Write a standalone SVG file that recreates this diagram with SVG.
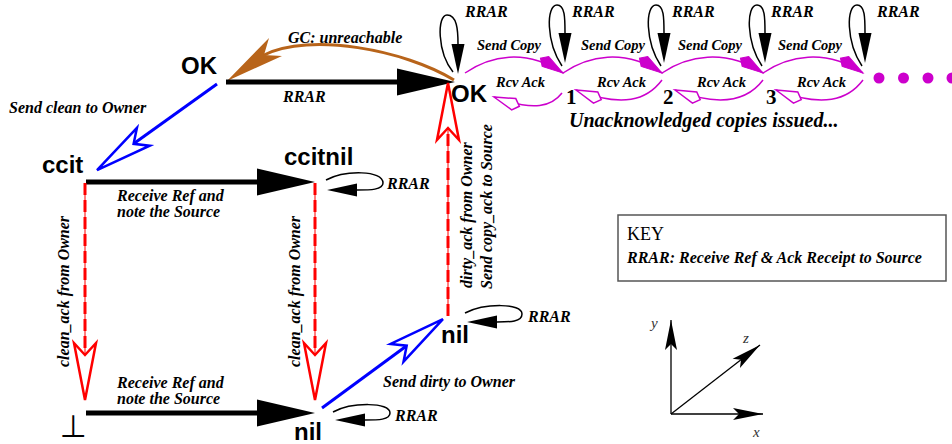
<svg xmlns="http://www.w3.org/2000/svg" width="952" height="444" viewBox="0 0 952 444">
<style>
.node{font-family:"Liberation Sans",Arial,sans-serif;font-weight:bold;font-size:24px;fill:#000}
.lbl{font-family:"Liberation Serif","Times New Roman",serif;font-weight:bold;font-style:italic;font-size:16px;fill:#000}
.sm{font-size:14.5px}
.num{font-family:"Liberation Serif","Times New Roman",serif;font-weight:bold;font-size:21px;fill:#000}
.ax{font-family:"Liberation Serif","Times New Roman",serif;font-style:italic;font-size:15px;fill:#333}
.big{stroke:#000;stroke-width:5;fill:none}
.loop{stroke:#000;stroke-width:1.5;fill:none}
.blue{stroke:#0000ff;stroke-width:3;fill:none}
.redthin{stroke:#ff0000;stroke-width:1;fill:none}
.reddash{stroke:#ff0000;stroke-width:3;fill:none;stroke-dasharray:12 5}
.mag{stroke:#cc00cc;stroke-width:1.5;fill:none}
.brown{stroke:#b8641a;stroke-width:3;fill:none}
.axis{stroke:#000;stroke-width:1.3;fill:none}
</style>
<defs>
<marker id="mBig" markerUnits="userSpaceOnUse" orient="auto" overflow="visible" markerWidth="1" markerHeight="1"><path d="M0,-13.5 L58,0 L0,13.5 Z" fill="#000"/></marker>
<marker id="mSmall" markerUnits="userSpaceOnUse" orient="auto" overflow="visible" markerWidth="1" markerHeight="1"><path d="M0,-6.5 L30,0 L0,6.5 Z" fill="#000"/></marker>
<marker id="mBlue" markerUnits="userSpaceOnUse" orient="auto" overflow="visible" markerWidth="1" markerHeight="1"><path d="M45,0 L-12,-11 L0,0 L-12,11 Z" fill="#fff" stroke="#0000ff" stroke-width="2.5"/></marker>
<marker id="mRed" markerUnits="userSpaceOnUse" orient="auto" overflow="visible" markerWidth="1" markerHeight="1"><path d="M45,0 L-12,-11 L0,0 L-12,11 Z" fill="#fff" stroke="#ff0000" stroke-width="2.5"/></marker>
<marker id="mKiteFill" markerUnits="userSpaceOnUse" orient="auto" overflow="visible" markerWidth="1" markerHeight="1"><path d="M0,0 L-21,-6 L-27,0 L-21,6 Z" fill="#cc00cc" stroke="#cc00cc" stroke-width="1"/></marker>
<marker id="mKiteOpen" markerUnits="userSpaceOnUse" orient="auto" overflow="visible" markerWidth="1" markerHeight="1"><path d="M0,0 L-21,-6 L-27,0 L-21,6 Z" fill="#fff" stroke="#cc00cc" stroke-width="1.5"/></marker>
<marker id="mAxis" markerUnits="userSpaceOnUse" orient="auto" overflow="visible" markerWidth="1" markerHeight="1"><path d="M0,0 L-30,-6 L-24,0 L-30,6 Z" fill="#000"/></marker>
</defs>

<g id="connectors">
  <path class="brown" d="M454,80 C405,50 310,32 264,55"/>
  <polygon points="227,81 269,38 264,55 282,56" fill="#b8641a"/>
  <path class="big" d="M226,82 H397" marker-end="url(#mBig)"/>
  <path class="big" d="M86,182 H257" marker-end="url(#mBig)"/>
  <path class="big" d="M86,413 H257" marker-end="url(#mBig)"/>
  <path class="blue" d="M217,84 L133.6,143.8" marker-end="url(#mBlue)"/>
  <path class="blue" d="M322,408 L406.7,345.7" marker-end="url(#mBlue)"/>
  <path class="redthin" d="M85,183 V355"/>
  <path class="reddash" d="M85,183 V355" marker-end="url(#mRed)"/>
  <path class="redthin" d="M315,183 V355"/>
  <path class="reddash" d="M315,183 V355" marker-end="url(#mRed)"/>
  <path class="redthin" d="M448,316 V128"/>
  <path class="reddash" d="M448,316 V128" marker-end="url(#mRed)"/>
  <path class="loop" d="M326,180 C345,170 383,170 383,183 C383,190 370,190 357,190" marker-end="url(#mSmall)"/>
  <path class="loop" d="M333,412 C352,402 390,402 390,413 C390,420 378,420 365,420" marker-end="url(#mSmall)"/>
  <path class="loop" d="M465,313 C485,303 522,303 522,314 C522,322 510,322 497,322" marker-end="url(#mSmall)"/>
  <path class="loop" d="M453,72 C437,52 437,15 447,15 C457,15 458,30 458,44" marker-end="url(#mSmall)"/>
  <path class="loop" d="M562,66 C546,42 546,5 557,5 C565,5 565,18 565,33" marker-end="url(#mSmall)"/>
  <path class="loop" d="M661,66 C645,42 645,5 656,5 C664,5 664,18 664,33" marker-end="url(#mSmall)"/>
  <path class="loop" d="M762,66 C746,42 746,5 757,5 C765,5 765,18 765,33" marker-end="url(#mSmall)"/>
  <path class="loop" d="M862,66 C846,42 846,5 857,5 C865,5 865,18 865,33" marker-end="url(#mSmall)"/>
  <path class="mag" d="M465,73 C490,56 525,48 563,73" marker-end="url(#mKiteFill)"/>
  <path class="mag" d="M563,73 C588,56 624,48 662,73" marker-end="url(#mKiteFill)"/>
  <path class="mag" d="M662,73 C687,56 725,48 763,73" marker-end="url(#mKiteFill)"/>
  <path class="mag" d="M763,73 C788,56 825,48 863,73" marker-end="url(#mKiteFill)"/>
  <path class="mag" d="M562,93 C552,106 535,112 494,97" marker-end="url(#mKiteOpen)"/>
  <path class="mag" d="M662,80 C647,100 623,108 576,90" marker-end="url(#mKiteOpen)"/>
  <path class="mag" d="M763,80 C748,100 722,108 675,90" marker-end="url(#mKiteOpen)"/>
  <path class="mag" d="M863,80 C848,100 823,108 776,90" marker-end="url(#mKiteOpen)"/>
  <text class="lbl" x="288" y="43">GC: unreachable</text>
  <text class="lbl" x="283" y="102">RRAR</text>
  <text class="lbl" x="9" y="113">Send clean to Owner</text>
  <text class="lbl" x="117" y="201">Receive Ref and</text>
  <text class="lbl" x="117" y="217">note the Source</text>
  <text class="lbl" x="117" y="388">Receive Ref and</text>
  <text class="lbl" x="117" y="404">note the Source</text>
  <text class="lbl" x="383" y="387">Send dirty to Owner</text>
  <text class="lbl" x="387" y="189">RRAR</text>
  <text class="lbl" x="395" y="421">RRAR</text>
  <text class="lbl" x="528" y="322">RRAR</text>
  <text class="lbl" transform="translate(69,367) rotate(-90)">clean_ack from Owner</text>
  <text class="lbl" transform="translate(300,367) rotate(-90)">clean_ack from Owner</text>
  <text class="lbl" transform="translate(472,288) rotate(-90)">dirty_ack from Owner</text>
  <text class="lbl" transform="translate(492,289) rotate(-90)">Send copy_ack to Source</text>
  <text class="lbl" x="465" y="17">RRAR</text>
  <text class="lbl" x="572" y="17">RRAR</text>
  <text class="lbl" x="672" y="17">RRAR</text>
  <text class="lbl" x="771" y="17">RRAR</text>
  <text class="lbl" x="877" y="17">RRAR</text>
  <text class="lbl sm" x="477" y="50">Send Copy</text>
  <text class="lbl sm" x="581" y="50">Send Copy</text>
  <text class="lbl sm" x="678" y="50">Send Copy</text>
  <text class="lbl sm" x="778" y="50">Send Copy</text>
  <text class="lbl sm" x="496" y="87">Rcv Ack</text>
  <text class="lbl sm" x="597" y="87">Rcv Ack</text>
  <text class="lbl sm" x="697" y="87">Rcv Ack</text>
  <text class="lbl sm" x="797" y="87">Rcv Ack</text>
  <text class="lbl" x="569" y="127" style="font-size:20px">Unacknowledged copies issued...</text>
</g>

<g id="node-ok-left"><text class="node" x="181" y="74">OK</text></g>
<g id="node-ok-right"><text class="node" x="451" y="102">OK</text></g>
<g id="node-ccit"><text class="node" x="42" y="173">ccit</text></g>
<g id="node-ccitnil"><text class="node" x="284" y="165">ccitnil</text></g>
<g id="node-bottom"><text x="73" y="437" text-anchor="middle" style="font-family:'DejaVu Sans',sans-serif;font-size:31px;fill:#000">⊥</text></g>
<g id="node-nil-bottom"><text class="node" x="294" y="440">nil</text></g>
<g id="node-nil-right"><text class="node" x="441" y="343">nil</text></g>
<g id="node-1"><text class="num" x="566" y="104">1</text></g>
<g id="node-2"><text class="num" x="663" y="104">2</text></g>
<g id="node-3"><text class="num" x="766" y="104">3</text></g>
<g id="node-dots" fill="#cc00cc">
  <circle cx="879" cy="78" r="5.5"/>
  <circle cx="903.5" cy="78" r="5.5"/>
  <circle cx="928" cy="78" r="5.5"/>
  <circle cx="952" cy="78" r="5.5"/>
</g>

<g id="key">
  <rect x="618" y="215" width="328" height="66" fill="none" stroke="#555" stroke-width="1.5"/>
  <text x="627" y="240" style="font-family:'Liberation Serif','Times New Roman',serif;font-size:18px;fill:#000">KEY</text>
  <text class="lbl" x="627" y="263">RRAR: Receive Ref &amp; Ack Receipt to Source</text>
</g>

<g id="axes">
  <path class="axis" d="M671,414 V320" marker-end="url(#mAxis)"/>
  <path class="axis" d="M671,414 H763" marker-end="url(#mAxis)"/>
  <path class="axis" d="M671,414 L760,345" marker-end="url(#mAxis)"/>
  <text class="ax" x="651" y="328">y</text>
  <text class="ax" x="743" y="343">z</text>
  <text class="ax" x="753" y="437">x</text>
</g>
</svg>
